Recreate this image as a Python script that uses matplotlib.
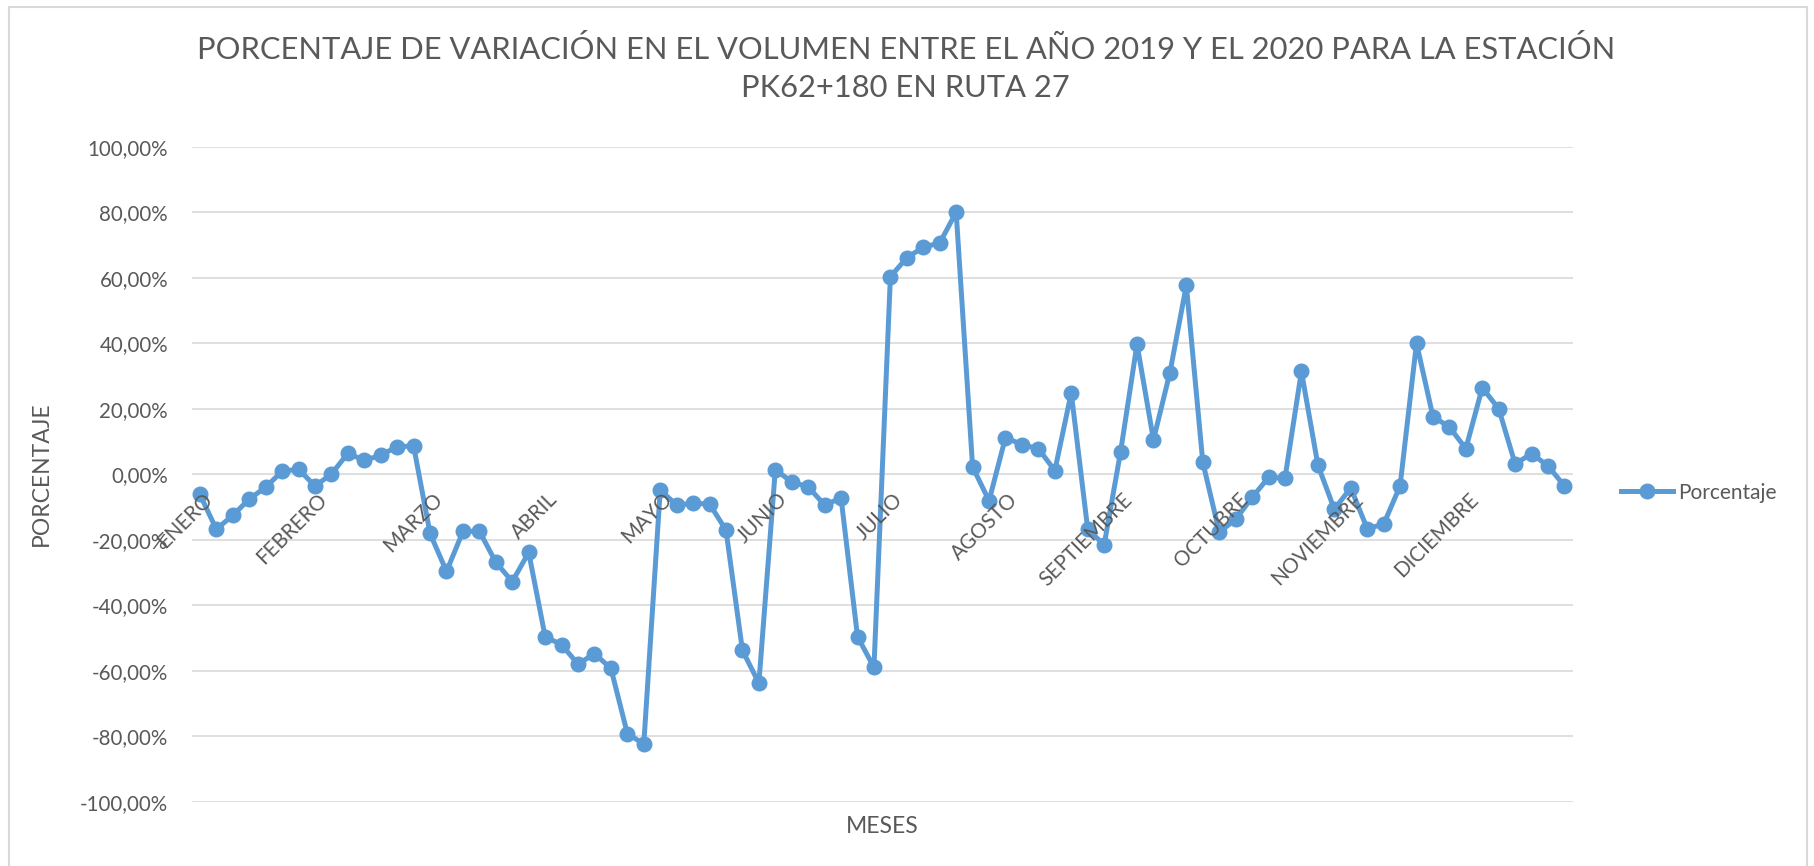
import numpy as np
import matplotlib.pyplot as plt
from matplotlib.patches import Rectangle
import matplotlib.transforms as mtransforms

plt.rcParams['font.family'] = ['Lato', 'DejaVu Sans']

# variación semanal (%) entre 2019 y 2020, 7 registros por mes
porcentaje = [
    -6.2, -16.8, -12.6, -7.6, -4.0, 0.9, 1.5,
    -3.6, 0.0, 6.4, 4.2, 5.8, 8.4, 8.6,
    -18.1, -29.7, -17.5, -17.4, -26.9, -32.8, -23.9,
    -49.6, -52.1, -58.0, -54.8, -59.3, -79.2, -82.4,
    -4.9, -9.4, -8.9, -9.1, -17.1, -53.8, -63.8,
    1.4, -2.4, -3.9, -9.4, -7.3, -49.6, -59.0,
    60.3, 66.1, 69.3, 70.6, 80.0, 2.2, -8.1,
    11.2, 9.0, 7.8, 1.1, 24.8, -16.8, -21.6,
    6.8, 39.7, 10.5, 31.0, 57.7, 3.7, -17.7,
    -13.8, -7.1, -1.0, -1.2, 31.4, 2.8, -10.7,
    -4.2, -16.6, -15.3, -3.6, 40.0, 17.6, 14.4,
    7.8, 26.4, 20.0, 3.1, 6.3, 2.5, -3.6,
]
meses = ["ENERO", "FEBRERO", "MARZO", "ABRIL", "MAYO", "JUNIO", "JULIO",
         "AGOSTO", "SEPTIEMBRE", "OCTUBRE", "NOVIEMBRE", "DICIEMBRE"]
pos_meses = [0, 7, 14, 21, 28, 35, 42, 49, 56, 63, 70, 77]
yticks = [-100, -80, -60, -40, -20, 0, 20, 40, 60, 80, 100]

gris = "#595959"
azul = "#5B9BD5"

fig = plt.figure(figsize=(18.15, 8.66), dpi=100)
ax = fig.add_axes([0.1056, 0.0743, 0.7609, 0.7563])

x = np.arange(len(porcentaje))
ax.plot(x, porcentaje, color=azul, lw=3.6, marker="o", ms=10.5,
        label="Porcentaje", zorder=3)

ax.set_xlim(-0.5, len(porcentaje) - 0.5)
ax.set_ylim(-100, 100)
ax.set_yticks(yticks)
ax.set_yticklabels([f"{v:.2f}%".replace(".", ",") for v in yticks])
ax.set_xticks([])
ax.tick_params(axis="y", length=0, pad=17, labelsize=14.8, labelcolor=gris)
ax.grid(axis="y", color="#d9d9d9", lw=1.2)
ax.set_axisbelow(True)
for s in ax.spines.values():
    s.set_visible(False)

# etiquetas de mes sobre el eje en 0
off = mtransforms.offset_copy(ax.transData, fig=fig, x=2, y=-15, units="dots")
for p, m in zip(pos_meses, meses):
    ax.text(p, 0, m, transform=off, rotation=45, rotation_mode="anchor",
            ha="right", va="top", fontsize=14.8, color=gris)

ax.set_ylabel("PORCENTAJE", fontsize=16.5, color=gris, labelpad=20)
ax.set_xlabel("MESES", fontsize=16.5, color=gris, labelpad=10)

fig.suptitle("PORCENTAJE DE VARIACIÓN EN EL VOLUMEN ENTRE EL AÑO 2019 Y EL 2020 PARA LA ESTACIÓN\n"
             "PK62+180 EN RUTA 27", x=0.499, y=0.960, fontsize=22.2, color=gris,
             linespacing=1.46)

fig.legend(loc="center left", bbox_to_anchor=(0.893, 0.431), frameon=False,
           fontsize=15, handlelength=2.5, handletextpad=0.25, borderpad=0,
           borderaxespad=0, labelcolor=gris)

fig.add_artist(Rectangle((0.005, -0.02), 0.9906, 1.012, transform=fig.transFigure,
                         fill=False, edgecolor="#d9d9d9", lw=1.5))

fig.savefig("out.png", dpi=100)
